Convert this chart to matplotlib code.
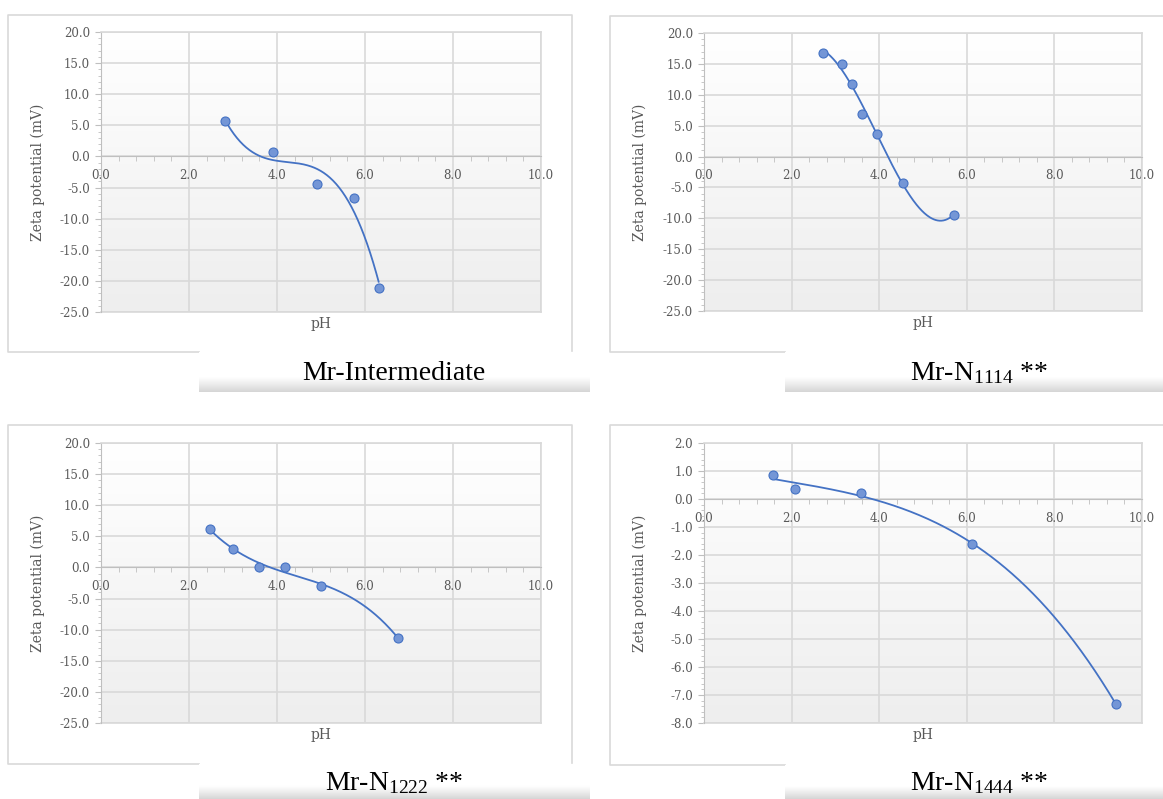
import numpy as np
import matplotlib
matplotlib.use("Agg")
import matplotlib.pyplot as plt
from matplotlib.colors import LinearSegmentedColormap
from matplotlib.ticker import MultipleLocator, FormatStrFormatter

# measured zeta potential vs pH for each sample
ph_inter = [2.81, 3.90, 4.91, 5.76, 6.31]
zeta_inter = [5.7, 0.7, -4.5, -6.6, -21.1]

ph_1114 = [2.72, 3.16, 3.39, 3.60, 3.95, 4.54, 5.71]
zeta_1114 = [16.8, 15.0, 11.8, 6.9, 3.7, -4.2, -9.4]

ph_1222 = [2.47, 3.00, 3.59, 4.19, 5.00, 6.76]
zeta_1222 = [6.2, 3.0, 0.15, 0.0, -3.0, -11.4]

ph_1444 = [1.57, 2.08, 3.59, 6.13, 9.40]
zeta_1444 = [0.85, 0.37, 0.21, -1.62, -7.31]

captions = ["Mr-Intermediate",
            r"Mr-N$_{\mathrm{1114}}$ **",
            r"Mr-N$_{\mathrm{1222}}$ **",
            r"Mr-N$_{\mathrm{1444}}$ **"]

plt.rcParams['mathtext.fontset'] = 'custom'
plt.rcParams['mathtext.rm'] = 'Liberation Serif'
plt.rcParams['mathtext.it'] = 'Liberation Serif:italic'
plt.rcParams['mathtext.bf'] = 'Liberation Serif:bold'

W, H = 1163, 799
TXT = '#595959'
AXC = '#BFBFBF'
GRID = '#D9D9D9'
BLUE = '#4472C4'


def rect(x0, y0, x1, y1):
    # pixel box (top-left origin) -> figure fraction
    return [x0 / W, 1 - y1 / H, (x1 - x0) / W, (y1 - y0) / H]


fig = plt.figure(figsize=(W / 100, H / 100), dpi=100)

# background layer in pixel coordinates for frames and caption bars
bg = fig.add_axes([0, 0, 1, 1])
bg.set_xlim(0, W)
bg.set_ylim(H, 0)
bg.axis('off')

bar_cmap = LinearSegmentedColormap.from_list('bar', ['#FFFFFF', '#FFFFFF', '#D6D6D6'])
area_cmap = LinearSegmentedColormap.from_list('area', ['#FFFFFF', '#EEEEEE'])

# frame outlines: (left, top, right, bottom, bar_left, bar_right, bar_bottom)
frames = [(8, 15, 572, 352, 199, 590, 392),
          (610, 16, 1200, 352, 785, 1163, 392),
          (8, 425, 572, 764, 199, 590, 799),
          (610, 425, 1200, 765, 785, 1163, 799)]
for l, t, r, b, bl, br, bb in frames:
    bg.plot([bl, l, l, r, r], [b, b, t, t, b - 1], color=GRID, lw=1.2)
    grad = np.linspace(0, 1, 60)[:, None] ** 1.5
    bg.imshow(grad, cmap=bar_cmap, extent=[bl, br, bb, b], aspect='auto',
              origin='upper', zorder=2)
bg.set_xlim(0, W)
bg.set_ylim(H, 0)

caption_pos = [(394, 380), (979, 380), (394, 790), (979, 790)]
for (cx, cy), cap in zip(caption_pos, captions):
    bg.text(cx, cy, cap, ha='center', va='baseline', fontsize=20,
            family='Liberation Serif', color='black', zorder=3)

panels = [
    dict(box=(101, 32, 541, 312), x=ph_inter, y=zeta_inter, ylim=(-25, 20),
         major=5, minor=1, order=3, ylab_x=-0.128),
    dict(box=(704, 33, 1142, 311), x=ph_1114, y=zeta_1114, ylim=(-25, 20),
         major=5, minor=1, order=3, ylab_x=-0.13),
    dict(box=(101, 443, 541, 723), x=ph_1222, y=zeta_1222, ylim=(-25, 20),
         major=5, minor=1, order=3, ylab_x=-0.128),
    dict(box=(704, 443, 1142, 723), x=ph_1444, y=zeta_1444, ylim=(-8, 2),
         major=1, minor=0.2, order=3, ylab_x=-0.13),
]

for p in panels:
    ax = fig.add_axes(rect(*p['box']))
    ymin, ymax = p['ylim']
    ax.imshow(np.linspace(0, 1, 100)[:, None], cmap=area_cmap, aspect='auto',
              extent=[0, 10, ymin, ymax], origin='upper', zorder=0)
    ax.set_xlim(0, 10)
    ax.set_ylim(ymin, ymax)

    ax.set_axisbelow(True)
    ax.grid(True, which='major', color=GRID, lw=1.2)
    ax.axhline(ymin, color=GRID, lw=1.2, clip_on=False, zorder=0.6)

    ax.spines['top'].set_color(GRID)
    ax.spines['right'].set_color(GRID)
    ax.spines['top'].set_linewidth(1.2)
    ax.spines['right'].set_linewidth(1.2)
    ax.spines['left'].set_color(AXC)
    ax.spines['bottom'].set_color(AXC)
    ax.spines['bottom'].set_position(('data', 0))

    ax.xaxis.set_major_locator(MultipleLocator(2))
    ax.xaxis.set_minor_locator(MultipleLocator(0.4))
    ax.yaxis.set_major_locator(MultipleLocator(p['major']))
    ax.yaxis.set_minor_locator(MultipleLocator(p['minor']))
    ax.xaxis.set_major_formatter(FormatStrFormatter('%.1f'))
    ax.yaxis.set_major_formatter(FormatStrFormatter('%.1f'))

    ax.tick_params(axis='x', which='major', length=0, pad=9, labelsize=8.5,
                   labelcolor=TXT)
    ax.tick_params(axis='x', which='minor', length=3.5, color=AXC)
    ax.tick_params(axis='y', which='major', length=4, color=AXC, pad=4,
                   labelsize=8.5, labelcolor=TXT)
    ax.tick_params(axis='y', which='minor', length=2.5, color=AXC)
    for lab in ax.get_xticklabels() + ax.get_yticklabels():
        lab.set_family('DejaVu Serif')

    ax.set_xlabel('pH', fontsize=10, color=TXT, family='DejaVu Serif')
    ax.xaxis.set_label_coords(0.5, -0.018)
    ax.set_ylabel('Zeta potential (mV)', fontsize=10, color=TXT,
                  family='DejaVu Serif')
    ax.yaxis.set_label_coords(p['ylab_x'], 0.5)

    # polynomial trendline over the data range
    coef = np.polyfit(p['x'], p['y'], p['order'])
    xs = np.linspace(min(p['x']), max(p['x']), 200)
    ax.plot(xs, np.polyval(coef, xs), color=BLUE, lw=1.3, zorder=3)
    ax.plot(p['x'], p['y'], 'o', ms=6.5, mfc='#7496D6', mec=BLUE, mew=0.8,
            zorder=4)

plt.savefig('out.png', dpi=100)
